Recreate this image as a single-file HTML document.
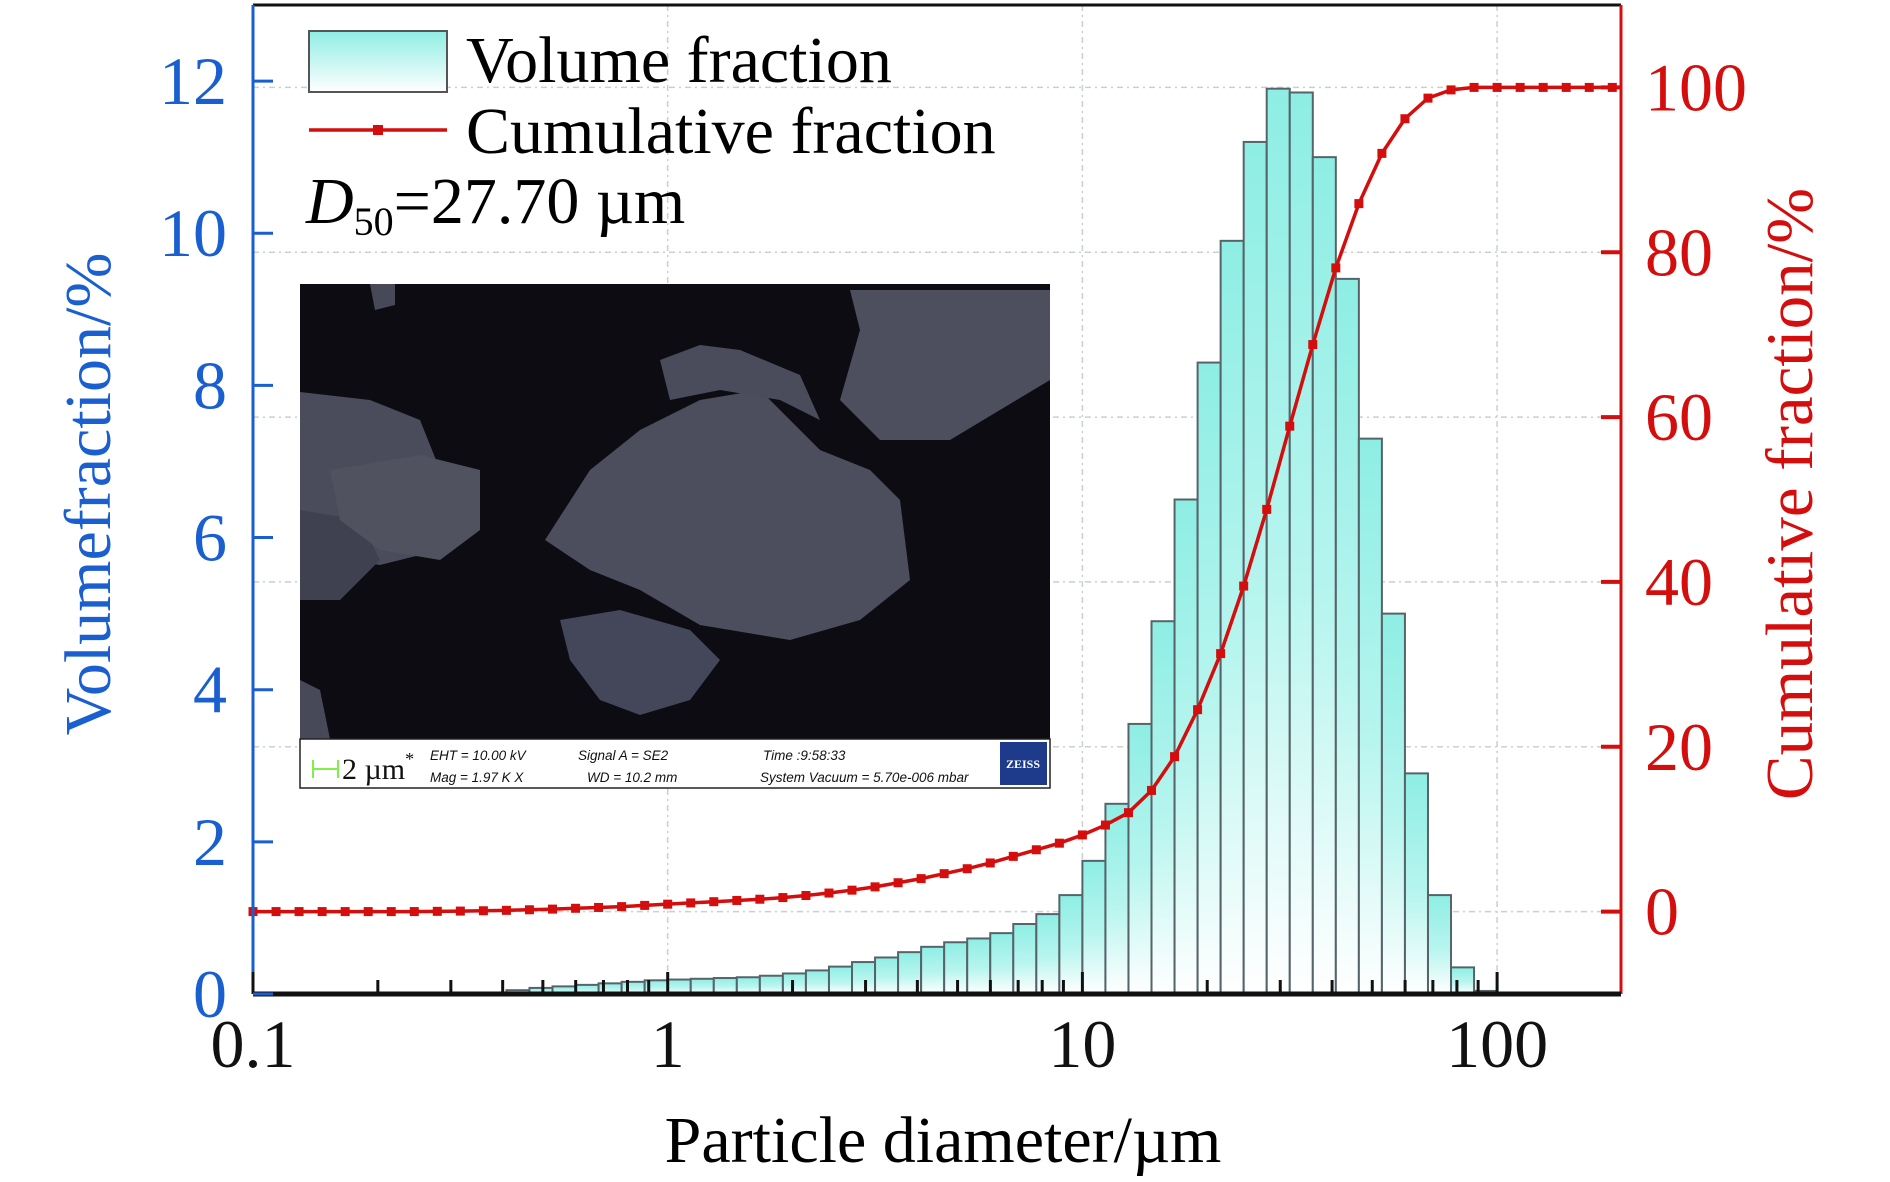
<!DOCTYPE html>
<html><head><meta charset="utf-8"><style>
html,body{margin:0;padding:0;background:#fff;}
svg{display:block;font-family:"Liberation Serif",serif;}
</style></head><body>
<svg id="chart" width="1890" height="1182" viewBox="0 0 1890 1182" xmlns="http://www.w3.org/2000/svg">
<defs>
<linearGradient id="barGrad" x1="0" y1="0" x2="0" y2="1">
<stop offset="0" stop-color="#8eeee4"/><stop offset="0.55" stop-color="#b8f5ef"/><stop offset="1" stop-color="#ffffff"/>
</linearGradient>
<linearGradient id="legGrad" x1="0" y1="0" x2="0" y2="1">
<stop offset="0" stop-color="#8eeee4"/><stop offset="1" stop-color="#ffffff"/>
</linearGradient>
</defs>
<g id="grid"></g>
<g id="bars"></g>
<g id="cum"></g>
<g id="axes"></g>

<g>
<rect x="300" y="284" width="750" height="455" fill="#0c0c12"/>
<path d="M300 392 L370 400 L420 420 L440 470 L470 490 L430 530 L420 555 L380 565 L350 560 L300 545 Z" fill="#4a4c5c"/>
<path d="M300 510 L360 520 L380 560 L340 600 L300 600 Z" fill="#3f4150"/>
<path d="M330 470 L420 455 L480 470 L480 530 L440 560 L380 550 L340 520 Z" fill="#50525f"/>
<path d="M545 540 L590 470 L640 430 L700 400 L760 390 L790 420 L820 450 L870 470 L900 500 L910 580 L860 620 L790 640 L700 625 L640 590 L590 570 Z" fill="#4c4e5d"/>
<path d="M560 620 L620 610 L690 630 L720 660 L690 700 L640 715 L600 700 L570 660 Z" fill="#44465a"/>
<path d="M660 360 L700 345 L740 350 L800 375 L820 420 L780 400 L720 390 L670 400 Z" fill="#4a4c5b"/>
<path d="M850 290 L1050 290 L1050 380 L950 440 L880 440 L840 400 L860 330 Z" fill="#4d4f5e"/>
<path d="M370 284 L395 284 L395 305 L375 310 Z" fill="#474959"/>
<path d="M300 680 L320 690 L330 739 L300 739 Z" fill="#474959"/>
<rect x="300" y="739" width="750" height="49" fill="#fff" stroke="#222" stroke-width="1.5"/>
<line x1="313" y1="769" x2="338" y2="769" stroke="#7df04a" stroke-width="2"/>
<line x1="313" y1="760" x2="313" y2="778" stroke="#7df04a" stroke-width="2"/>
<line x1="338" y1="760" x2="338" y2="778" stroke="#7df04a" stroke-width="2"/>
<text x="342" y="779" font-size="30" fill="#111">2 µm<tspan font-size="18" dy="-14">*</tspan></text>
<g font-family="Liberation Sans, sans-serif" font-style="italic" font-size="13.5" fill="#111">
<text x="430" y="760">EHT = 10.00 kV</text>
<text x="578" y="760">Signal A = SE2</text>
<text x="763" y="760">Time :9:58:33</text>
<text x="430" y="782">Mag =     1.97 K X</text>
<text x="587" y="782">WD = 10.2 mm</text>
<text x="760" y="782">System Vacuum = 5.70e-006 mbar</text>
</g>
<rect x="1000" y="742" width="47" height="43" fill="#1e3a8a"/>
<text x="1023" y="768" font-size="12" font-weight="bold" fill="#fff" text-anchor="middle">ZEISS</text>
</g>

<g>
<rect x="309" y="31" width="138" height="61" fill="url(#legGrad)" stroke="#555" stroke-width="2"/>
<text x="466" y="82" font-size="66">Volume fraction</text>
<line x1="309" y1="130" x2="447" y2="130" stroke="#d40d0d" stroke-width="3.5"/>
<rect x="373" y="125" width="10" height="10" fill="#d40d0d"/>
<text x="466" y="153" font-size="66">Cumulative fraction</text>
<text x="306" y="223" font-size="66"><tspan font-style="italic">D</tspan><tspan font-size="40" dy="12">50</tspan><tspan dy="-12">=27.70 µm</tspan></text>
</g>

<text x="943" y="1162" font-size="66" text-anchor="middle">Particle diameter/µm</text>
<text transform="translate(110,494) rotate(-90)" font-size="66" fill="#1a5fd0" text-anchor="middle">Volumefraction/%</text>
<text transform="translate(1812,494) rotate(-90)" font-size="67" fill="#d40d0d" text-anchor="middle">Cumulative fraction/%</text>
</svg>
<script>
const binsPerDecade = 18;
const barStartIndex = 11;
const barValues = [0.05,0.08,0.10,0.12,0.14,0.16,0.18,0.19,0.20,0.21,0.22,0.24,0.27,0.31,0.36,0.42,0.48,0.55,0.62,0.68,0.73,0.80,0.92,1.05,1.30,1.75,2.50,3.55,4.90,6.50,8.30,9.90,11.20,11.90,11.85,11.00,9.40,7.30,5.00,2.90,1.30,0.35,0.04];
const cumValues = [0,0,0,0,0,0,0,0,0.03,0.06,0.10,0.15,0.22,0.30,0.40,0.50,0.60,0.75,0.90,1.05,1.20,1.35,1.50,1.70,1.95,2.25,2.60,3.00,3.50,4.00,4.60,5.20,5.90,6.70,7.50,8.30,9.30,10.50,12.00,14.70,18.80,24.50,31.30,39.50,48.80,58.90,68.80,78.10,85.90,92.00,96.20,98.70,99.70,100,100,100,100,100,100,100];
const xTicks = [0.1,1,10,100];
const xTickLabels = ["0.1","1","10","100"];
const yLeftTicks = [0,2,4,6,8,10,12];
const yRightTicks = [0,20,40,60,80,100];

const X0=253, X1=1621, DEC=414.7, YB=994, YT=5;
const xs = v => X0 + (Math.log10(v) + 1) * DEC;
const yl = v => YB - v * (YB - YT) / 13;
const yr = v => YB - (v + 10) * (YB - YT) / 120;
const edge = k => 0.1 * Math.pow(10, k / binsPerDecade);
const NS='http://www.w3.org/2000/svg';
function mk(tag, attrs, parent){const e=document.createElementNS(NS,tag);for(const k in attrs)e.setAttribute(k,attrs[k]);parent.appendChild(e);return e;}
const grid=document.getElementById('grid'), bars=document.getElementById('bars'), cum=document.getElementById('cum'), axes=document.getElementById('axes');

yRightTicks.forEach(t=>{const l=mk('line',{x1:X0,x2:X1,y1:yr(t),y2:yr(t),stroke:'#c8d0d0','stroke-width':1.5,'stroke-dasharray':'6 4 2 4'},grid);

});
xTicks.slice(1).forEach(t=>{const l=mk('line',{x1:xs(t),x2:xs(t),y1:YT,y2:YB,stroke:'#c8d0d0','stroke-width':1.5,'stroke-dasharray':'6 4 2 4'},grid);

});

barValues.forEach((v,i)=>{const k=barStartIndex+i;const xa=xs(edge(k)),xb=xs(edge(k+1));
const r=mk('rect',{x:xa,y:yl(v),width:xb-xa,height:YB-yl(v),fill:'url(#barGrad)',stroke:'#56646a','stroke-width':2},bars);

});

const pts=cumValues.map((v,k)=>[xs(edge(k)),yr(v)]);
const pl=mk('polyline',{points:pts.map(p=>p.join(',')).join(' '),fill:'none',stroke:'#d40d0d','stroke-width':3.5},cum);


pts.forEach(p=>{const m=mk('rect',{x:p[0]-4.5,y:p[1]-4.5,width:9,height:9,fill:'#d40d0d'},cum);

});

mk('line',{x1:X0,x2:X1,y1:YT,y2:YT,stroke:'#111','stroke-width':3},axes);
const la=mk('line',{x1:X0,x2:X0,y1:YT,y2:YB,stroke:'#1a5fd0','stroke-width':3},axes);


const ra=mk('line',{x1:X1,x2:X1,y1:YT,y2:YB,stroke:'#d40d0d','stroke-width':3},axes);


const xa=mk('line',{x1:X0,x2:X1,y1:YB,y2:YB,stroke:'#111','stroke-width':5},axes);


for(let d=-1;d<=2;d++){for(let m=1;m<=9;m++){const v=m*Math.pow(10,d);const x=xs(v);if(x>X1)continue;
mk('line',{x1:x,x2:x,y1:YB,y2:YB-(m===1?22:14),stroke:'#111','stroke-width':3},axes);}}
xTicks.forEach((t,i)=>{const tx=mk('text',{x:xs(t),y:1067,'font-size':68,'text-anchor':'middle',fill:'#111'},axes);tx.textContent=xTickLabels[i];

});
yLeftTicks.forEach(t=>{mk('line',{x1:X0,x2:X0+20,y1:yl(t),y2:yl(t),stroke:'#1a5fd0','stroke-width':3},axes);
const tx=mk('text',{x:227,y:yl(t)+23,'font-size':68,'text-anchor':'end',fill:'#1a5fd0'},axes);tx.textContent=t;

});
yRightTicks.forEach(t=>{mk('line',{x1:X1-20,x2:X1,y1:yr(t),y2:yr(t),stroke:'#d40d0d','stroke-width':4},axes);
const tx=mk('text',{x:1645,y:yr(t)+23,'font-size':68,fill:'#d40d0d'},axes);tx.textContent=t;

});
</script>
</body></html>
